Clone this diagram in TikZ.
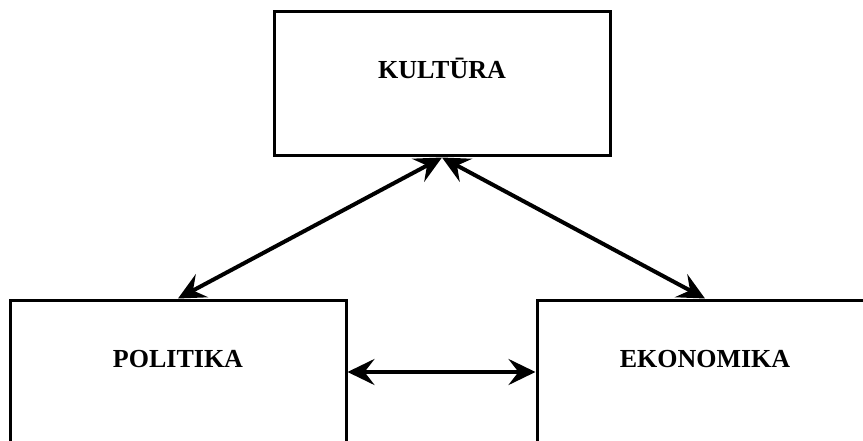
\documentclass[tikz,border=0pt]{standalone}
\usepackage{fontspec}
\setmainfont{Liberation Serif}
\usetikzlibrary{arrows.meta}
\tikzset{
  box/.style={draw=black, line width=3pt, rectangle, minimum width=336pt, inner xsep=0pt,
    inner ysep=47pt, text height=20pt, text depth=30pt,
    font=\fontsize{26}{30}\selectfont\bfseries},
  link/.style={line width=4pt, {Stealth[length=27pt,width=26pt,inset=10pt]}-{Stealth[length=27pt,width=26pt,inset=10pt]}}
}
\begin{document}
\begin{tikzpicture}[x=1pt,y=-1pt]
\useasboundingbox (0,0) rectangle (863,441);
\clip (0,0) rectangle (863,441);
\node[box] (kult) at (442,84) {KULTŪRA};
\node[box] (pol) at (178,372) {POLITIKA};
\node[box] (eko) at (705,372) {EKONOMIKA};
\draw[link] (kult.south) -- (pol.north);
\draw[link] (kult.south) -- (eko.north);
\draw[link] (pol.east) -- (eko.west);
\end{tikzpicture}
\end{document}
